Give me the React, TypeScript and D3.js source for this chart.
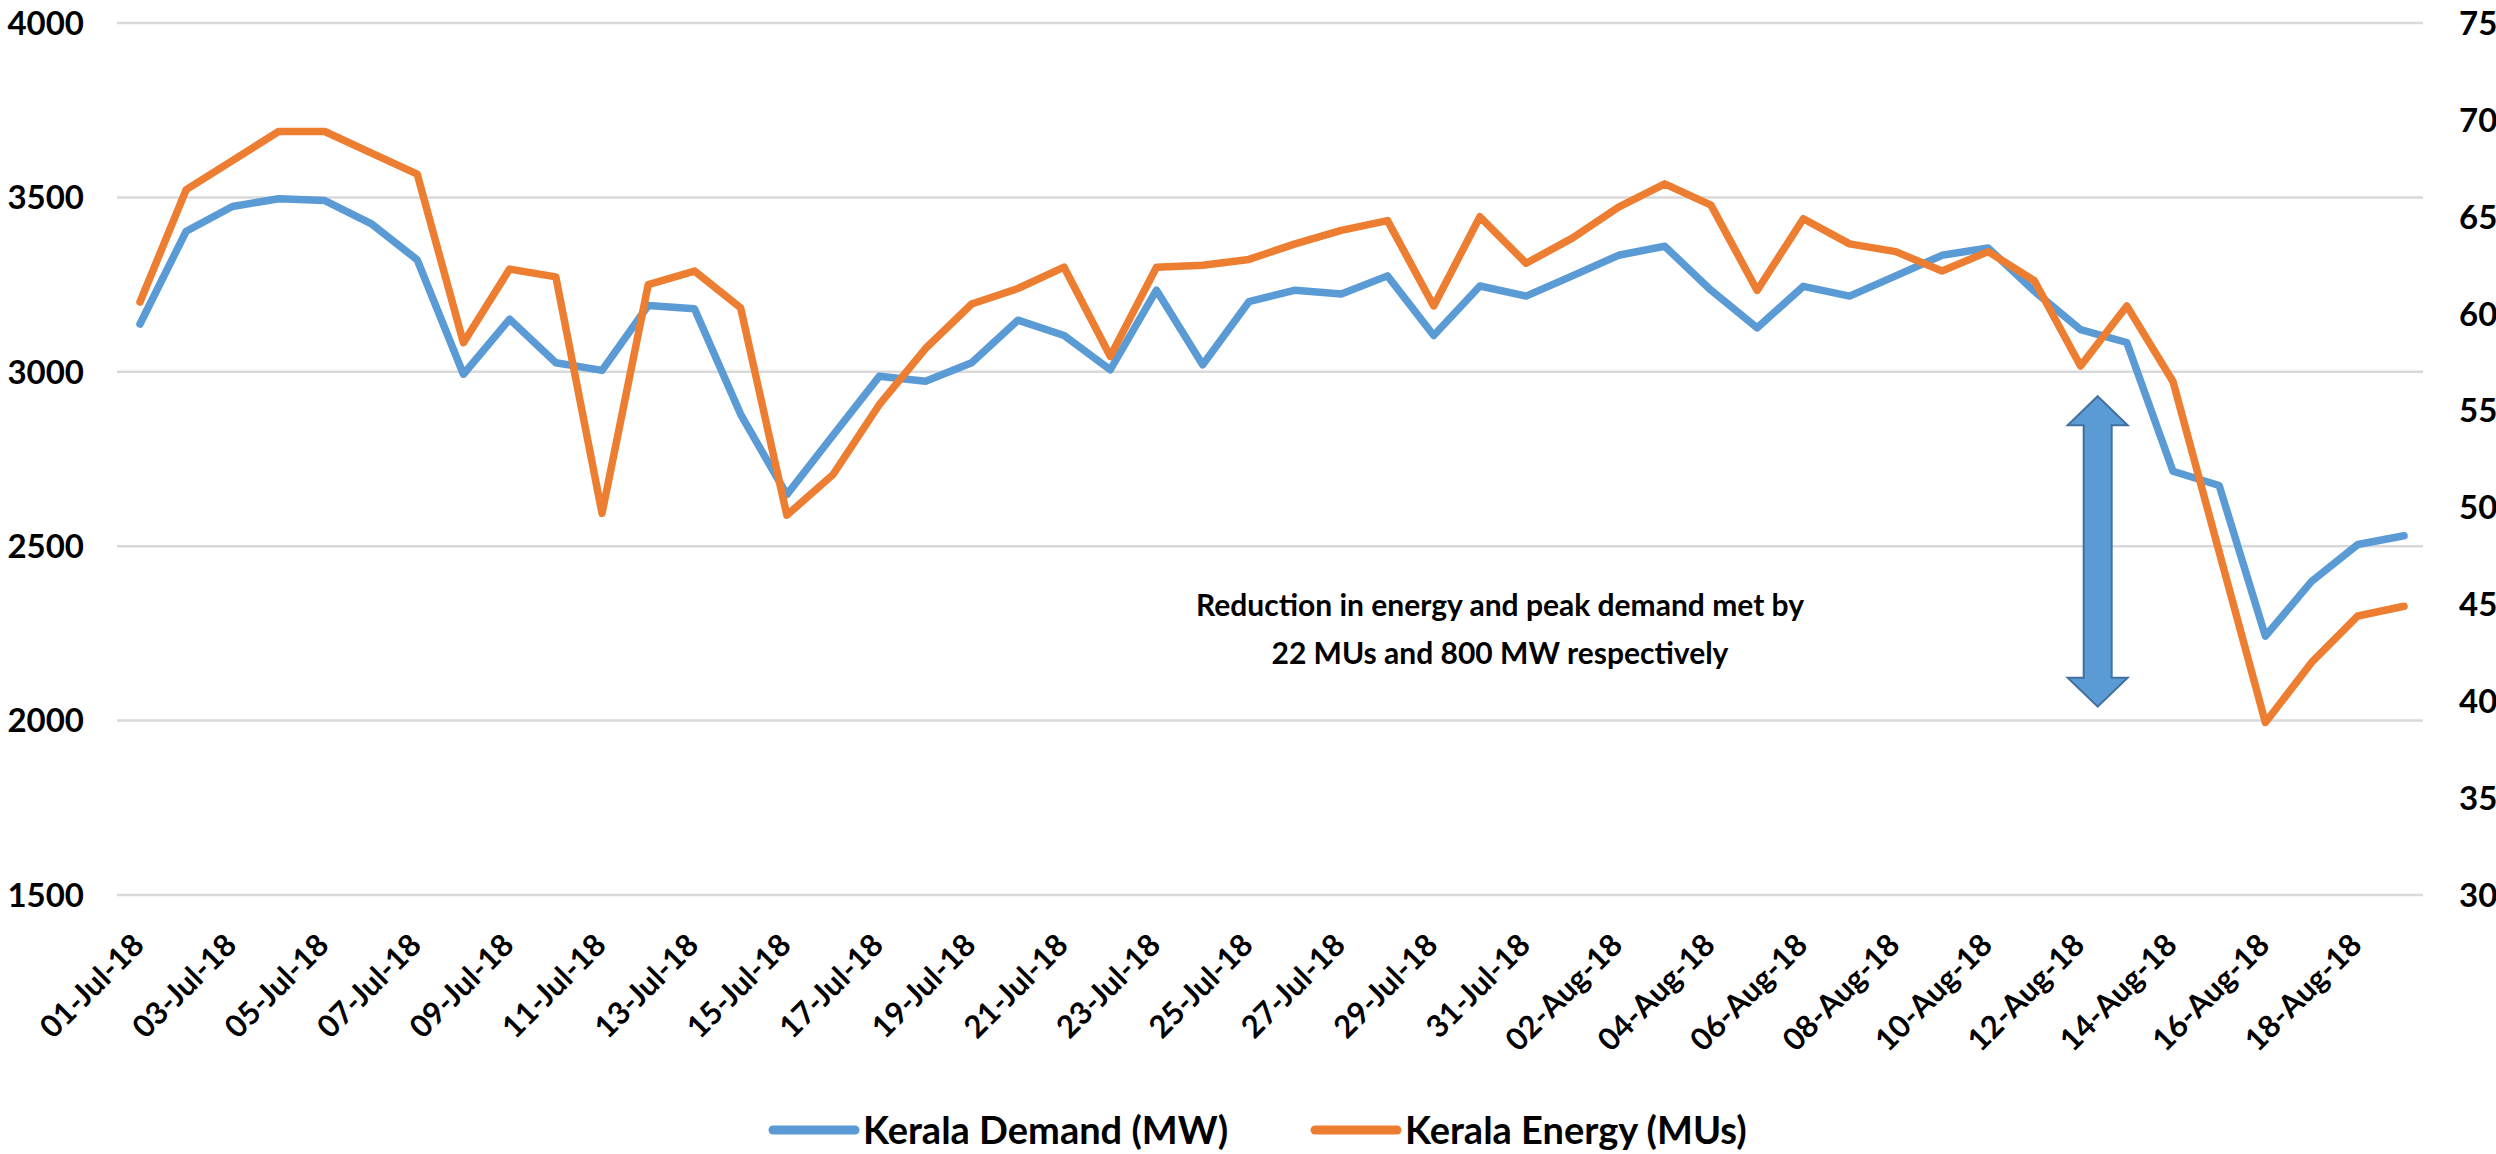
import React from 'react';
import * as d3 from 'd3';

const dates = [
  '01-Jul-18', '02-Jul-18', '03-Jul-18', '04-Jul-18', '05-Jul-18', '06-Jul-18', '07-Jul-18', '08-Jul-18', '09-Jul-18', '10-Jul-18',
  '11-Jul-18', '12-Jul-18', '13-Jul-18', '14-Jul-18', '15-Jul-18', '16-Jul-18', '17-Jul-18', '18-Jul-18', '19-Jul-18', '20-Jul-18',
  '21-Jul-18', '22-Jul-18', '23-Jul-18', '24-Jul-18', '25-Jul-18', '26-Jul-18', '27-Jul-18', '28-Jul-18', '29-Jul-18', '30-Jul-18',
  '31-Jul-18', '01-Aug-18', '02-Aug-18', '03-Aug-18', '04-Aug-18', '05-Aug-18', '06-Aug-18', '07-Aug-18', '08-Aug-18', '09-Aug-18',
  '10-Aug-18', '11-Aug-18', '12-Aug-18', '13-Aug-18', '14-Aug-18', '15-Aug-18', '16-Aug-18', '17-Aug-18', '18-Aug-18', '19-Aug-18',
];

// Kerala Demand (MW), left axis
const demand = [
  3137, 3403, 3474, 3496, 3491, 3425, 3321, 2993, 3151, 3026,
  3004, 3190, 3181, 2878, 2648, 2818, 2987, 2973, 3026, 3148,
  3104, 3006, 3234, 3020, 3201, 3234, 3223, 3275, 3104, 3246,
  3217, 3275, 3334, 3360, 3234, 3126, 3245, 3217, 3275, 3334,
  3355, 3231, 3121, 3084, 2715, 2674, 2242, 2399, 2505, 2530,
];

// Kerala Energy (MUs), right axis
const energy = [
  60.6, 66.4, 67.9, 69.4, 69.4, 68.3, 67.2, 58.5, 62.3, 61.9,
  49.7, 61.5, 62.2, 60.3, 49.6, 51.7, 55.3, 58.2, 60.5, 61.3,
  62.4, 57.8, 62.4, 62.5, 62.8, 63.6, 64.3, 64.8, 60.4, 65.0,
  62.6, 63.9, 65.5, 66.7, 65.6, 61.2, 64.9, 63.6, 63.2, 62.2,
  63.2, 61.7, 57.3, 60.4, 56.5, 47.7, 38.9, 42.0, 44.4, 44.9,
];

const leftTicks = [1500, 2000, 2500, 3000, 3500, 4000];
const rightTicks = [30, 35, 40, 45, 50, 55, 60, 65, 70, 75];

const seriesNames = ['Kerala Demand (MW)', 'Kerala Energy (MUs)'];
const seriesColors = ['#5B9BD5', '#ED7D31'];

const annotationLines = [
  'Reduction in energy and peak demand met by',
  '22 MUs and 800 MW respectively',
];
// arrow spans these demand values, placed between 12-Aug and 13-Aug
const arrowRange = [2930, 2040];

const W = 2496;
const H = 1154;
const FONT = 'Lato, "Open Sans", sans-serif';

export default function App() {
  const x = d3.scalePoint<string>().domain(dates).range([140, 2404]);
  const yL = d3.scaleLinear().domain([1500, 4000]).range([895, 23]);
  const yR = d3.scaleLinear().domain([30, 75]).range([895, 23]);

  const demandLine = d3.line<number>()
    .x((_, i) => x(dates[i]) as number)
    .y(d => yL(d));
  const energyLine = d3.line<number>()
    .x((_, i) => x(dates[i]) as number)
    .y(d => yR(d));

  // double headed arrow
  const ax = ((x('12-Aug-18') as number) + (x('13-Aug-18') as number)) / 2 - 6;
  const top = yL(arrowRange[0]);
  const bot = yL(arrowRange[1]);
  const hw = 30, sw = 14, hh = 29;
  const arrowPath = [
    [ax, top], [ax + hw, top + hh], [ax + sw, top + hh], [ax + sw, bot - hh], [ax + hw, bot - hh],
    [ax, bot], [ax - hw, bot - hh], [ax - sw, bot - hh], [ax - sw, top + hh], [ax - hw, top + hh],
  ].map((p, i) => `${i ? 'L' : 'M'}${p[0]},${p[1]}`).join('') + 'Z';

  return (
    <svg width={W} height={H} style={{ position: 'absolute', left: 0, top: 0, background: '#fff' }} fontFamily={FONT}>
      {/* grid */}
      {leftTicks.map(t => (
        <line key={t} x1={117} x2={2423} y1={yL(t)} y2={yL(t)} stroke="#d9d9d9" strokeWidth={2.5} />
      ))}
      {/* left axis */}
      {leftTicks.map(t => (
        <text key={t} x={84} y={yL(t)} dy="0.36em" textAnchor="end" fontSize={33} fontWeight={700} fill="#000">{t}</text>
      ))}
      {/* right axis */}
      {rightTicks.map(t => (
        <text key={t} x={2459} y={yR(t)} dy="0.36em" textAnchor="start" fontSize={33} fontWeight={700} fill="#000">{t}</text>
      ))}
      {/* x labels */}
      {dates.filter((_, i) => i % 2 === 0).map(d => (
        <text key={d} transform={`translate(${(x(d) as number) + 6},947) rotate(-45)`} textAnchor="end" fontSize={31} fontWeight={700} fill="#000">{d}</text>
      ))}
      {/* lines */}
      <path d={demandLine(demand) || ''} fill="none" stroke={seriesColors[0]} strokeWidth={7.5} strokeLinejoin="round" strokeLinecap="round" />
      <path d={energyLine(energy) || ''} fill="none" stroke={seriesColors[1]} strokeWidth={7.5} strokeLinejoin="round" strokeLinecap="round" />
      {/* annotation */}
      {annotationLines.map((s, i) => (
        <text key={i} x={1500} y={616 + i * 48} textAnchor="middle" fontSize={30} fontWeight={700} fill="#000">{s}</text>
      ))}
      <path d={arrowPath} fill="#5B9BD5" stroke="#41719C" strokeWidth={2} />
      {/* legend */}
      {seriesNames.map((n, i) => {
        const lx = [773, 1315][i];
        return (
          <g key={n}>
            <line x1={lx} x2={lx + 82} y1={1130} y2={1130} stroke={seriesColors[i]} strokeWidth={9} strokeLinecap="round" />
            <text x={lx + 90} y={1130} dy="0.36em" fontSize={38} fontWeight={700} fill="#000">{n}</text>
          </g>
        );
      })}
    </svg>
  );
}
